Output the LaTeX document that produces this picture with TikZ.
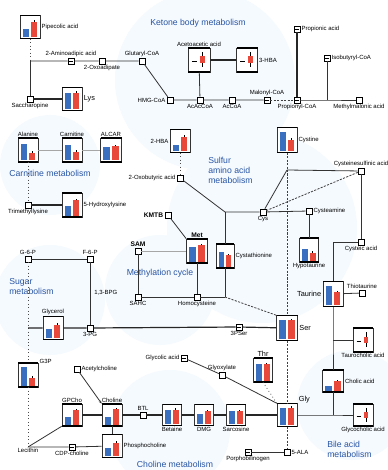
\documentclass[tikz,border=0pt]{standalone}
\usepackage{fontspec}
\setmainfont{Liberation Sans}
\usetikzlibrary{arrows.meta}
\definecolor{barblue}{RGB}{58,110,190}
\definecolor{barred}{RGB}{232,72,58}
\definecolor{grpblue}{RGB}{40,85,165}
\definecolor{bgblue}{RGB}{245,250,254}
\newcommand\BarBox[8]{%
  \node[frame, minimum width={#4*0.75pt}, minimum height={#5*0.75pt}, label={#8}] (#1) at (#2,#3) {};
  \fill[barblue] ({#2-#4*0.36},{#3+#5/2-1.5}) rectangle ({#2-#4*0.03},{#3+#5/2-1.5-#6*(#5-5)});
  \fill[barred] ({#2+#4*0.03},{#3+#5/2-1.5}) rectangle ({#2+#4*0.36},{#3+#5/2-1.5-#7*(#5-5)});
  \draw[line width=0.3pt] ({#2+#4*0.19},{#3+#5/2-1.5-#7*(#5-5)}) -- ++(0,-1.5);
  \draw[line width=1pt] ({#2-#4/2},{#3-#5/2}) -- ({#2+#4/2},{#3-#5/2});
  \draw[line width=1pt] ({#2-#4/2},{#3+#5/2}) -- ({#2+#4/2},{#3+#5/2});
}
\newcommand\PlotBox[6]{%
  \node[frame, minimum width={#4*0.75pt}, minimum height={#5*0.75pt}, label={#6}] (#1) at (#2,#3) {};
  \draw[line width=0.7pt] ({#2-#4*0.32},{#3+1.5}) -- ({#2-#4*0.1},{#3+1.5});
  \draw[line width=0.4pt] ({#2+#4*0.15},{#3-#5*0.32}) -- ({#2+#4*0.15},{#3+#5*0.3});
  \fill[barred] ({#2+#4*0.03},{#3-3.5}) rectangle ({#2+#4*0.27},{#3+3});
  \draw[line width=1pt] ({#2-#4/2},{#3-#5/2}) -- ({#2+#4/2},{#3-#5/2});
  \draw[line width=1pt] ({#2-#4/2},{#3+#5/2}) -- ({#2+#4/2},{#3+#5/2});
}
\begin{document}
\begin{tikzpicture}[x=0.75pt,y=-0.75pt,
  lbl/.style={font=\fontsize{4.5}{5}\selectfont, inner sep=0.8pt},
  big/.style={font=\fontsize{5.5}{6}\selectfont, inner sep=1pt},
  bold/.style={font=\bfseries\fontsize{5}{6}\selectfont, inner sep=1pt},
  grp/.style={font=\fontsize{6.5}{7.5}\selectfont, text=grpblue, inner sep=0pt, align=left},
  frame/.style={draw=black!80, line width=0.4pt, fill=white, inner sep=0pt},
  sn/.style={draw, fill=white, line width=0.4pt, minimum size=4.5pt, inner sep=0pt,
    path picture={\fill (path picture bounding box.center) circle (0.35pt);}},
  sn2/.style={draw, fill=white, line width=0.4pt, minimum size=4.5pt, inner sep=0pt,
    path picture={\draw[line width=0.3pt] ([xshift=0.9pt]path picture bounding box.west) -- ([xshift=-0.9pt]path picture bounding box.east);}},
  pt/.style={inner sep=0pt, minimum size=0pt},
  conn/.style={draw=black!80, line width=0.6pt},
  thk/.style={draw=black!85, line width=1.2pt},
  row/.style={draw=black!85, line width=0.9pt},
  dots/.style={draw=black!70, dotted, line width=0.6pt},
  dsh/.style={draw=black!75, dash pattern=on 1.6pt off 1pt, line width=0.6pt},
  light/.style={draw=black!35, line width=0.6pt}]
\useasboundingbox (0,0) rectangle (388,470);
\fill[white] (0,0) rectangle (388,470);
% faint background blobs
\fill[bgblue] (205,80) circle (90);
\fill[bgblue] (262,228) circle (95);
\fill[bgblue] (160,290) circle (55);
\fill[bgblue] (50,300) circle (55);
\fill[bgblue] (50,165) circle (50);
\fill[bgblue] (170,430) circle (60);
\fill[bgblue] (352,405) circle (55);

% ---------- Ketone body / lysine ----------
\BarBox{pip}{30}{27}{20}{23}{0.45}{0.85}{[lbl]right:Pipecolic acid}
\coordinate (j0) at (30,61);
\node[sn2, label={[lbl]above:2-Aminoadipic acid}] (aad) at (71,61) {};
\node[sn, label={[lbl]below:2-Oxoadipate}] (oxa) at (102,61) {};
\node[sn, label={[lbl]above:Glutaryl-CoA}] (glut) at (142,61) {};
\node[sn, label={[lbl]below:Saccharopine}] (sacc) at (30,99) {};
\BarBox{lys}{72}{99}{20}{23}{0.9}{0.9}{[big]right:Lys}
\node[sn, label={[lbl]left:HMG-CoA}] (hmg) at (170,100) {};
\node[sn, label={[lbl]below:AcAcCoA}] (acac) at (200,100) {};
\node[sn, label={[lbl]below:AcCoA}] (accoa) at (232,100) {};
\node[sn2, label={[lbl]above:Malonyl-CoA}] (mal) at (267,100) {};
\node[sn2, label={[lbl]below:Propionyl-CoA}] (prop) at (297,100) {};
\coordinate (j1) at (327,100);
\node[sn, label={[lbl]below:Methylmalonic acid}] (mma) at (359,100) {};
\node[sn2, label={[lbl]right:Propionic acid}] (pa) at (297,29) {};
\node[sn2, label={[lbl]right:Isobutyryl-CoA}] (ibc) at (327,58) {};
\PlotBox{aca}{199}{60}{22}{24}{[lbl]above:Acetoacetic acid}
\PlotBox{hbt}{247}{60}{21}{24}{[lbl]right:3-HBA}
\node[grp] (gk) at (198,23) {Ketone body metabolism};

% ---------- Carnitine ----------
\BarBox{ala}{28}{150}{20}{24}{0.85}{0.4}{[lbl]above:Alanine}
\BarBox{car}{72}{150}{20}{24}{0.8}{0.45}{[lbl]above:Carnitine}
\BarBox{alcar}{111}{150}{21}{24}{0.7}{0.75}{[lbl]above:ALCAR}
\node[grp] (gc) at (50,173) {Carnitine metabolism};
\node[sn, label={[lbl]below:Trimethyllysine}] (tml) at (28,205) {};
\BarBox{hyl}{72}{205}{20}{24}{0.5}{0.8}{[lbl]right:5-Hydroxylysine}

% ---------- Sulfur amino acids ----------
\BarBox{hba}{180}{141}{20}{23}{0.35}{0.8}{[lbl]left:2-HBA}
\node[sn, label={[lbl]left:2-Oxobutyric acid}] (oba) at (180,178) {};
\coordinate (j2) at (225,212);
\node[sn, label={[lbl]below:Cys}] (cys) at (263,212) {};
\BarBox{cyst}{287}{140}{20}{25}{0.95}{0.55}{[lbl]right:Cystine}
\coordinate (j3) at (287,170);
\node[sn, label={[lbl]above:Cysteinesulfinic acid}] (csa) at (361,171) {};
\node[sn, label={[lbl]right:Cysteamine}] (cyam) at (309,211) {};
\BarBox{hyp}{309}{250}{19}{24}{0.6}{0.4}{[lbl]below:Hypotaurine}
\node[sn, label={[lbl]below:Cysteic acid}] (cya) at (361,242) {};
\coordinate (j4) at (333,242);
\BarBox{tau}{333}{294}{20}{25}{0.95}{0.65}{[big]left:Taurine}
\node[sn, label={[lbl]above:Thiotaurine}] (ttau) at (362,293) {};
\BarBox{cth}{225}{256}{18}{24}{0.75}{0.6}{[lbl]right:Cystathionine}
\node[grp, anchor=north west] (gs) at (208,157) {Sulfur\\amino acid\\metabolism};

% ---------- Methylation cycle ----------
\node[sn, label={[bold]left:KMTB}] (kmtb) at (168,215) {};
\BarBox{met}{197}{251}{21}{24}{0.75}{0.85}{[bold]above:Met}
\node[sn, label={[bold]above:SAM}] (sam) at (138,251) {};
\node[sn, label={[lbl]below:SAHC}] (sah) at (138,297) {};
\node[sn, label={[lbl]below:Homocysteine}] (hcy) at (197,297) {};
\coordinate (j5) at (225,297);
\node[grp] (gm) at (160,273) {Methylation cycle};

% ---------- Sugar ----------
\node[sn, label={[lbl]above:G-6-P}] (g6p) at (28,259) {};
\node[sn, label={[lbl]above:F-6-P}] (f6p) at (90,259) {};
\node[sn, label={[lbl]below:3-PG}] (pg3) at (90,328) {};
\coordinate (j6) at (28,328);
\BarBox{gol}{53}{328}{20}{23}{0.5}{0.75}{[lbl]above:Glycerol}
\BarBox{g3p}{28}{375}{20}{24}{0.95}{0.4}{[lbl]above right:G3P}
\node[lbl, anchor=west] (bpg) at (93,293) {1,3-BPG};
\node[grp, anchor=north west] (gsu) at (9,278) {Sugar\\metabolism};
\node[sn2, label={[lbl]below:3PSer}] (pser) at (239,327) {};
\BarBox{ser}{287}{328}{21}{25}{0.95}{0.95}{[big]right:Ser}

% ---------- Glycine ----------
\BarBox{thr}{263}{370}{19}{24}{0.85}{0.85}{[big]above:Thr}
\BarBox{gly}{287}{415}{20}{23}{0.95}{0.95}{[big]above right:Gly}
\node[sn2, label={[lbl]left:Glycolic acid}] (gca) at (184,358) {};
\node[sn, label={[lbl]above:Glyoxylate}] (glx) at (222,375) {};
\node[sn2, label={[lbl]below:Porphobilinogen}] (pbg) at (248,452) {};
\node[sn, label={[lbl]right:5-ALA}] (ala5) at (287,452) {};

% ---------- Bile acids ----------
\BarBox{cho}{333}{381}{21}{22}{0.25}{0.55}{[lbl]right:Cholic acid}
\PlotBox{tca}{363}{340}{20}{24}{[lbl]below:Taurocholic acid}
\PlotBox{gcha}{363}{415}{20}{22}{[lbl]below:Glycocholic acid}
\coordinate (j7) at (333,340);
\coordinate (j8) at (333,415);
\node[grp, anchor=north west] (gb) at (327,441) {Bile acid\\metabolism};

% ---------- Choline ----------
\BarBox{gpc}{72}{415}{20}{22}{0.45}{0.85}{[lbl]above:GPCho}
\BarBox{chol}{112}{415}{20}{22}{0.45}{0.9}{[lbl]above:Choline}
\BarBox{pcho}{112}{446}{20}{23}{0.45}{0.75}{[lbl]right:Phosphocholine}
\node[sn, label={[lbl]right:Acetylcholine}] (ach) at (77,369) {};
\node[sn, label={[lbl]above:BTL}] (btl) at (143,415) {};
\BarBox{bet}{172}{415}{19}{21}{0.9}{0.9}{[lbl]below:Betaine}
\BarBox{dmg}{204}{415}{19}{21}{0.6}{0.8}{[lbl]below:DMG}
\BarBox{sar}{236}{415}{19}{21}{0.8}{0.8}{[lbl]below:Sarcosine}
\node[pt, label={[lbl]below:Lecithin}] (lec) at (28,447) {};
\node[sn2, label={[lbl]below:CDP-choline}] (cdp) at (72,447) {};
\node[grp] (gch) at (175,464) {Choline metabolism};

% ---------- connectors ----------
\draw[dots] (pip) -- (j0);
\draw[conn] (j0) -- (aad) -- (oxa) -- (glut) -- (hmg) -- (acac) -- (accoa) -- (mal);
\draw[conn] (j0) -- (sacc);
\draw[thk] (sacc) -- (lys);
\draw[dsh] (mal) -- (prop);
\draw[conn] (prop) -- (j1) -- (mma);
\draw[thk] (pa) -- (prop);
\draw[conn] (ibc) -- (j1);
\draw[thk] (aca) -- (hbt);
\draw[conn] (aca) -- (acac);

\draw[light] (ala) -- (car) -- (alcar);
\draw[dots] (ala) -- (tml);
\draw[thk] (tml) -- (hyl);

\draw[dots] (hba) -- (oba);
\draw[conn] (oba) -- (j2) -- (cys);
\draw[conn] (j2) -- (cth);
\draw[dsh] (cyst) -- (j3);
\draw[dsh] (j3) -- (ser);
\draw[conn] (j3) -- (csa);
\draw[conn] (j3) -- (cys);
\draw[dsh] (cys) -- (csa);
\draw[conn] (cys) -- (cyam);
\draw[conn] (cyam) -- (hyp);
\draw[conn] (csa) -- (cya);
\draw[conn] (cya) -- (j4) -- (tau);
\draw[conn] (tau) -- (ttau);

\draw[conn] (kmtb) -- (met.north west);
\draw[light] (sam) -- (met);
\draw[conn] (sam) -- (sah) -- (hcy) -- (j5);
\draw[conn] (met) -- (hcy);
\draw[conn] (cth) -- (j5);
\draw[dsh] (j5) -- (ser.north west);

\draw[conn] (g6p) -- (f6p) -- (pg3);
\draw[dots] (g6p) -- (j6) -- (g3p);
\draw[dots] (g3p) -- (lec);
\draw[row] (j6) -- (gol) -- (pg3) -- (pser) -- (ser);

\draw[dsh] (ser) -- (gly);
\draw[dsh] (gly) -- (ala5);
\draw[conn] (pbg) -- (ala5);
\draw[dots] (thr.south) -- (gly.north west);
\draw[conn] (gca) -- (glx) -- (gly.north west);

\draw[conn] (tau) -- (j7) -- (cho);
\draw[conn] (j7) -- (tca);
\draw[conn] (cho) -- (j8);
\draw[conn] (gly) -- (j8) -- (gcha);

\draw[conn] (lec) -- (gpc.south west);
\draw[conn] (lec) -- (cdp) -- (pcho);
\draw[row] (gpc) -- (chol) -- (btl) -- (bet) -- (dmg) -- (sar) -- (gly);
\draw[conn] (chol) -- (pcho);
\draw[conn, -{Stealth[length=2.5pt]}] (ach) -- (chol.north west);
\end{tikzpicture}
\end{document}
